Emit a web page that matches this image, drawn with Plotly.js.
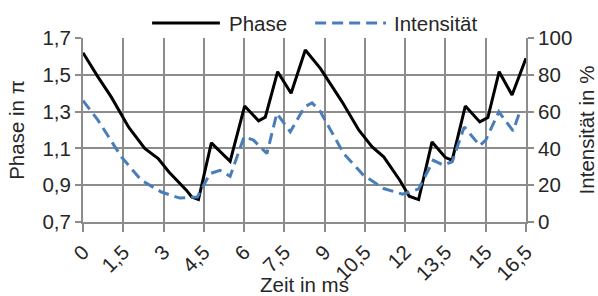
<!DOCTYPE html>
<html>
<head>
<meta charset="utf-8">
<script src="https://cdn.plot.ly/plotly-3.0.1.min.js"></script>
<style>
html,body{margin:0;padding:0;background:#fff;}
#chart{width:598px;height:296px;}
</style>
</head>
<body>
<div id="chart"></div>
<script>
// ---- data ----
const phaseTime = [0.0, 0.55, 1.05, 1.7, 2.3, 2.8, 3.2, 3.85, 4.05, 4.3, 4.78, 5.48, 6.02, 6.54, 6.79, 7.25, 7.75, 8.28, 8.84, 9.65, 10.27, 10.77, 11.2, 11.8, 12.15, 12.5, 13.0, 13.5, 13.75, 14.24, 14.78, 15.08, 15.5, 15.98, 16.5];
const phaseValues = [1.62, 1.49, 1.38, 1.215, 1.10, 1.045, 0.972, 0.873, 0.836, 0.822, 1.13, 1.03, 1.33, 1.25, 1.27, 1.517, 1.40, 1.635, 1.535, 1.353, 1.20, 1.108, 1.054, 0.927, 0.84, 0.822, 1.135, 1.05, 1.036, 1.33, 1.244, 1.268, 1.517, 1.39, 1.59];

const intensityTime = [0.0, 0.55, 1.43, 2.17, 2.92, 3.6, 4.26, 4.73, 5.1, 5.48, 6.0, 6.35, 6.85, 7.22, 7.72, 8.25, 8.53, 8.84, 9.71, 10.45, 11.2, 11.9, 12.3, 12.5, 13.05, 13.4, 13.75, 14.2, 14.78, 15.0, 15.49, 16.02, 16.27];
const intensityValues = [66, 55.5, 35.4, 22.7, 16.3, 13, 13.6, 26.3, 28.1, 24.8, 46.3, 44.5, 37.2, 59, 49, 62.5, 64.8, 60, 37.2, 25.4, 18.2, 15.1, 17, 18, 33.5, 31, 32.7, 51.7, 41.5, 44.5, 59.9, 49.5, 59.9];

const seriesNames = ["Phase", "Intensität"];

const xTickVals = [0, 1.5, 3, 4.5, 6, 7.5, 9, 10.5, 12, 13.5, 15, 16.5];
const xTickText = ["0", "1,5", "3", "4,5", "6", "7,5", "9", "10,5", "12", "13,5", "15", "16,5"];
const yTickVals = [0.7, 0.9, 1.1, 1.3, 1.5, 1.7];
const yTickText = ["0,7", "0,9", "1,1", "1,3", "1,5", "1,7"];
const y2TickVals = [0, 20, 40, 60, 80, 100];
const y2TickText = ["0", "20", "40", "60", "80", "100"];

const xTitle = "Zeit in ms";
const yTitle = "Phase in π";
const y2Title = "Intensität in %";

// ---- styles ----
const FONT = "Liberation Sans, Arial, sans-serif";
const TXT = "#262626";
const GRID = "#8c8c8c";
const BLUE = "#4a7ebb";
const FS = 20.5;

const traces = [
  {x: phaseTime, y: phaseValues, name: seriesNames[0], type: "scatter", mode: "lines",
   line: {color: "#000000", width: 3}, yaxis: "y", showlegend: false},
  {x: intensityTime, y: intensityValues, name: seriesNames[1], type: "scatter", mode: "lines",
   line: {color: BLUE, width: 3, dash: "11px,6px"}, yaxis: "y2", showlegend: false}
];

const axisCommon = {
  showline: true, linecolor: GRID, linewidth: 2,
  ticks: "outside", ticklen: 6, tickwidth: 2, tickcolor: GRID,
  zeroline: false, tickfont: {family: FONT, size: FS, color: TXT}
};

const layout = {
  width: 598, height: 296,
  margin: {l: 83, r: 72, t: 38, b: 74, pad: 0},
  paper_bgcolor: "#ffffff", plot_bgcolor: "#ffffff",
  font: {family: FONT, size: FS, color: TXT},
  showlegend: false,
  xaxis: Object.assign({}, axisCommon, {
    range: [0, 16.5], tickmode: "array", tickvals: xTickVals, ticktext: xTickText,
    tickangle: -45, ticklen: 8,
    showgrid: true, gridcolor: GRID, gridwidth: 2,
    title: {text: xTitle, font: {family: FONT, size: FS, color: TXT}, standoff: 9}
  }),
  yaxis: Object.assign({}, axisCommon, {
    range: [0.7, 1.7], tickmode: "array", tickvals: yTickVals, ticktext: yTickText,
    showgrid: true, gridcolor: GRID, gridwidth: 2,
    title: {text: yTitle, font: {family: FONT, size: FS, color: TXT}, standoff: 12}
  }),
  yaxis2: Object.assign({}, axisCommon, {
    range: [0, 100], tickmode: "array", tickvals: y2TickVals, ticktext: y2TickText,
    overlaying: "y", side: "right", showgrid: false,
    title: {text: y2Title, font: {family: FONT, size: FS, color: TXT}, standoff: 12}
  }),
  // custom legend (long line samples like the original)
  shapes: [
    {type: "line", xref: "paper", yref: "paper", x0: 0.156, x1: 0.309, y0: 1.0815, y1: 1.0815,
     line: {color: "#000000", width: 3}},
    {type: "line", xref: "paper", yref: "paper", x0: 0.524, x1: 0.684, y0: 1.0815, y1: 1.0815,
     line: {color: BLUE, width: 3, dash: "11px,6px"}}
  ],
  annotations: [
    {xref: "paper", yref: "paper", x: 0.325, y: 1.0815, text: seriesNames[0], showarrow: false,
     xanchor: "left", yanchor: "middle", font: {family: FONT, size: FS, color: TXT}},
    {xref: "paper", yref: "paper", x: 0.697, y: 1.0815, text: seriesNames[1], showarrow: false,
     xanchor: "left", yanchor: "middle", font: {family: FONT, size: FS, color: TXT}}
  ]
};

Plotly.newPlot("chart", traces, layout, {displayModeBar: false, staticPlot: true});
</script>
</body>
</html>
